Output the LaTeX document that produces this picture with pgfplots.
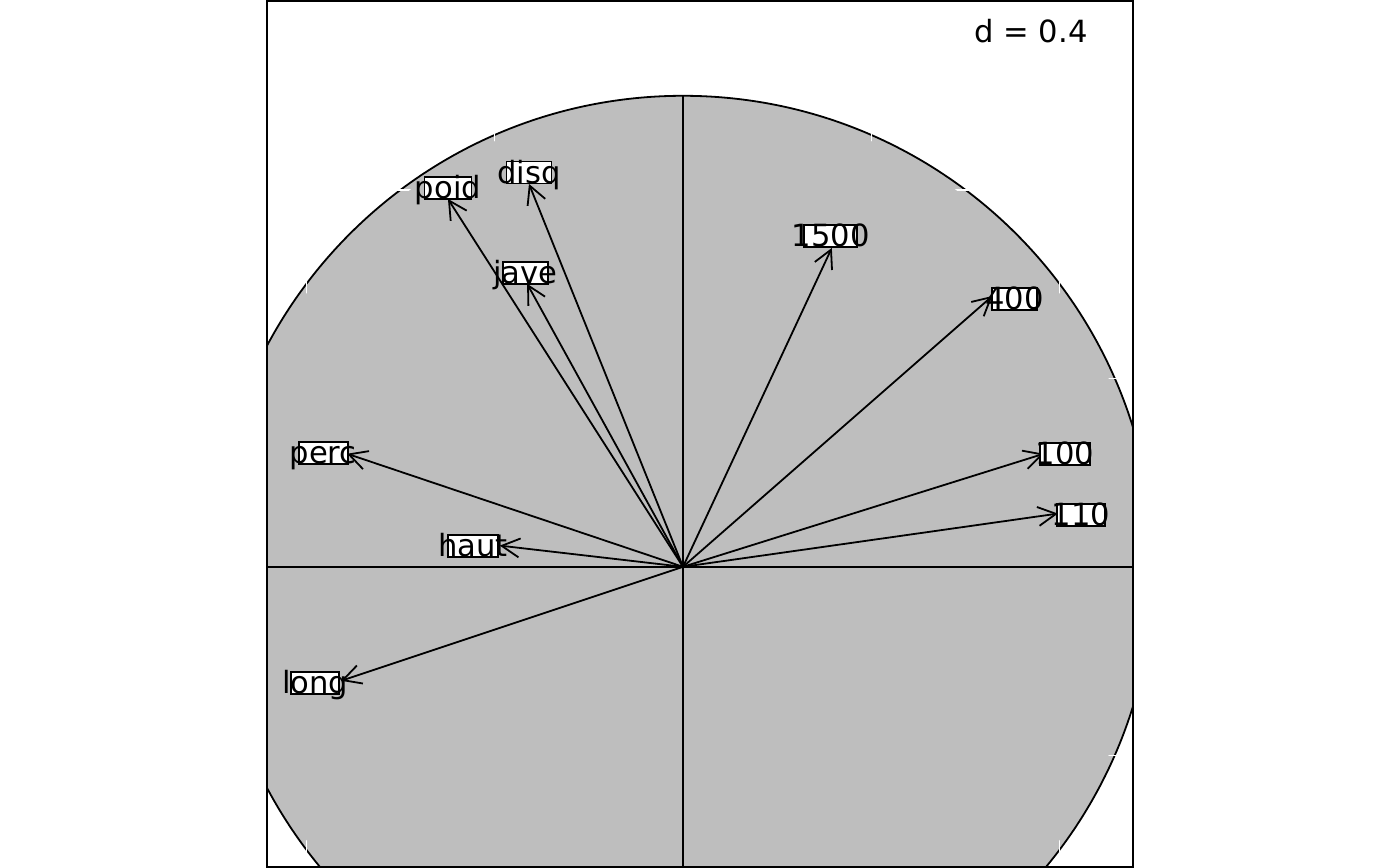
\documentclass[border=0pt]{standalone}
\usepackage{pgfplots}
\pgfplotsset{compat=1.18}
\usepackage{fontspec}
\setmainfont{DejaVu Sans}
\usetikzlibrary{arrows.meta}
\definecolor{circgray}{RGB}{190,190,190}
\newcommand{\lab}[3]{%
  \node[draw=black, fill=white, line width=0.9pt, minimum width=#2pt, minimum height=11pt, inner sep=0pt] at (axis cs:#1) {};
  \node[anchor=base, inner sep=0pt, font=\fontsize{15.3}{18}\selectfont, yshift=-5.5pt] at (axis cs:#1) {#3};}
\begin{document}
\begin{tikzpicture}
\begin{axis}[name=ax, at={(0,0)}, anchor=south west, scale only axis,
  width=433pt, height=433pt,
  xmin=-0.8832, xmax=0.9554, ymin=-0.6369, ymax=1.2017,
  xtick=\empty, ytick=\empty, axis on top,
  axis line style={line width=0.8pt}]
\fill[circgray] (axis cs:0,0) circle[radius=1];
\draw[line width=0.9pt] (axis cs:0,0) circle[radius=1];
\begin{scope}[even odd rule]
\clip (axis cs:0,0) circle[radius=1.012] (axis cs:0,0) circle[radius=0.988];
\draw[white, line width=0.6pt] (axis cs:-0.8,-2) -- (axis cs:-0.8,2);
\draw[white, line width=0.6pt] (axis cs:-0.4,-2) -- (axis cs:-0.4,2);
\draw[white, line width=0.6pt] (axis cs:0.4,-2) -- (axis cs:0.4,2);
\draw[white, line width=0.6pt] (axis cs:0.8,-2) -- (axis cs:0.8,2);
\draw[white, line width=0.6pt] (axis cs:-2,-0.8) -- (axis cs:2,-0.8);
\draw[white, line width=0.6pt] (axis cs:-2,-0.4) -- (axis cs:2,-0.4);
\draw[white, line width=0.6pt] (axis cs:-2,0.4) -- (axis cs:2,0.4);
\draw[white, line width=0.6pt] (axis cs:-2,0.8) -- (axis cs:2,0.8);
\end{scope}
\addplot[line width=0.9pt] coordinates {(-1,0) (1,0)};
\addplot[line width=0.9pt] coordinates {(0,-1) (0,1)};
% arrows
\pgfplotsset{arr/.style={line width=0.9pt, -{Straight Barb[length=9pt,width=9.5pt,line width=0.9pt]}}}
\addplot[arr] coordinates {(0,0) (0.316,0.677)};   % 1500
\addplot[arr] coordinates {(0,0) (0.657,0.575)};   % 400
\addplot[arr] coordinates {(0,0) (0.766,0.240)};   % 100
\addplot[arr] coordinates {(0,0) (0.796,0.113)};   % 110
\addplot[arr] coordinates {(0,0) (-0.499,0.781)};  % poid
\addplot[arr] coordinates {(0,0) (-0.327,0.813)};  % disq
\addplot[arr] coordinates {(0,0) (-0.331,0.601)};  % jave
\addplot[arr] coordinates {(0,0) (-0.713,0.240)};  % perc
\addplot[arr] coordinates {(0,0) (-0.389,0.045)};  % haut
\addplot[arr] coordinates {(0,0) (-0.726,-0.242)}; % long
% labels
\lab{-0.499,0.805}{23.5}{poid}
\lab{-0.327,0.837}{22.5}{disq}
\lab{-0.335,0.624}{22.5}{jave}
\lab{0.314,0.703}{26.5}{1500}
\lab{0.704,0.569}{22.5}{400}
\lab{0.811,0.240}{25}{100}
\lab{0.845,0.110}{24}{110}
\lab{-0.764,0.242}{24.5}{perc}
\lab{-0.446,0.045}{25}{haut}
\lab{-0.781,-0.246}{24}{long}
\node[anchor=east, inner sep=0pt, font=\fontsize{15.3}{18}\selectfont] at ([xshift=-22.5pt,yshift=-15pt]rel axis cs:1,1) {d = 0.4};
\end{axis}
\path (ax.south west) ++(-133.5pt,0) rectangle ([xshift=133.5pt]ax.north east);
\end{tikzpicture}
\end{document}
